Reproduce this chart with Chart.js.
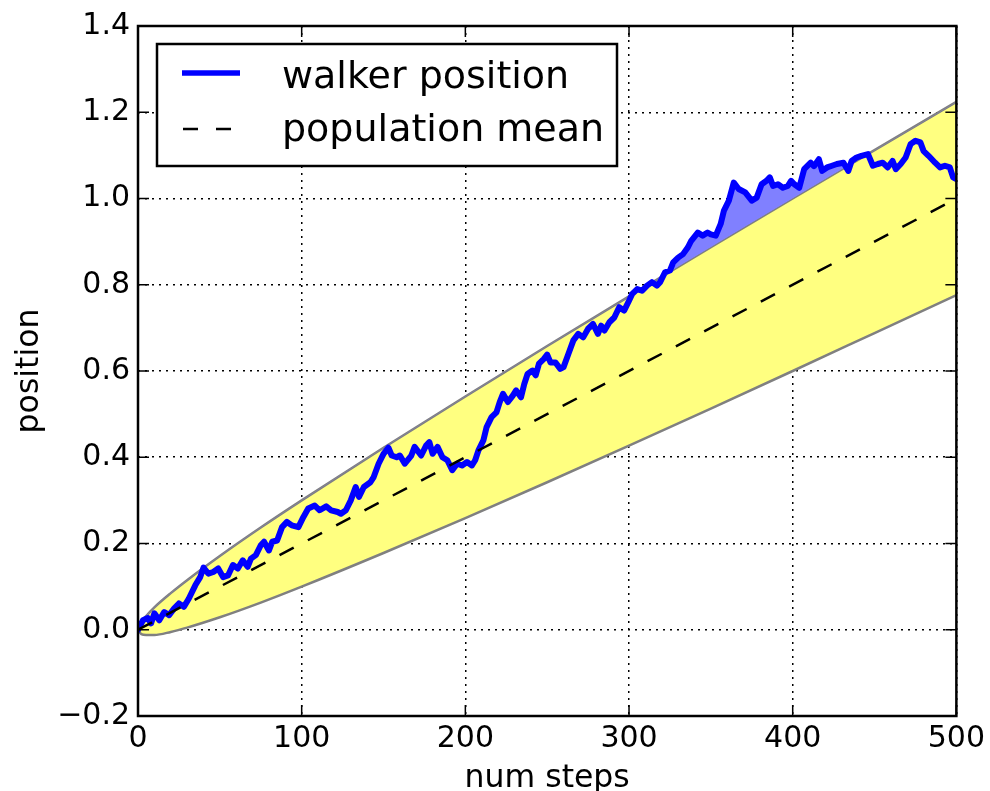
<!DOCTYPE html>
<html>
<head>
  <title>Random walker position</title>
  <script src="https://cdn.jsdelivr.net/npm/chart.js"></script>
  <style>
    html, body { margin: 0; padding: 0; background: #fff; overflow: hidden; }
  </style>
</head>
<body>
  <canvas id="walkChart" width="990" height="791"></canvas>

  <script>
    // walker path (step, position)
    const walkerSteps = [0, 3, 6, 8, 10, 13, 16, 19, 22, 25, 28, 31, 35, 38, 40, 43, 46, 49, 52, 55,
      58, 61, 64, 67, 69, 72, 75, 77, 80, 82, 85, 88, 91, 94, 98, 101, 104, 108, 111, 115,
      118, 122, 124, 127, 130, 133, 135, 138, 142, 144, 147, 150, 153, 155, 158, 160, 163, 167, 169, 173,
      176, 178, 180, 183, 186, 189, 192, 195, 198, 201, 204, 206, 208, 211, 213, 216, 219, 221, 223, 226,
      229, 231, 234, 236, 238, 241, 243, 245, 248, 250, 252, 255, 258, 260, 263, 266, 269, 272, 275, 278,
      281, 283, 285, 288, 291, 294, 297, 300, 302, 305, 308, 311, 314, 317, 319, 322, 325, 327, 330, 333,
      336, 338, 342, 345, 348, 350, 353, 356, 358, 361, 364, 367, 371, 375, 378, 381, 384, 386, 388, 391,
      394, 397, 399, 401, 404, 407, 411, 413, 416, 418, 421, 424, 427, 431, 434, 436, 439, 442, 446, 449,
      452, 455, 458, 461, 463, 466, 469, 472, 475, 478, 480, 483, 487, 490, 493, 496, 498, 500];
    const walkerPos = [0.000, 0.022, 0.027, 0.015, 0.038, 0.022, 0.041, 0.034, 0.049, 0.061, 0.053, 0.072, 0.103, 0.122, 0.144, 0.130, 0.134, 0.142, 0.122, 0.126,
      0.150, 0.142, 0.161, 0.146, 0.165, 0.173, 0.196, 0.204, 0.184, 0.204, 0.207, 0.238, 0.250, 0.242, 0.238, 0.261, 0.281, 0.288, 0.277, 0.286,
      0.277, 0.273, 0.269, 0.277, 0.300, 0.331, 0.308, 0.331, 0.342, 0.354, 0.385, 0.408, 0.422, 0.404, 0.400, 0.404, 0.385, 0.404, 0.424, 0.404,
      0.427, 0.435, 0.408, 0.424, 0.400, 0.393, 0.370, 0.385, 0.381, 0.389, 0.381, 0.393, 0.416, 0.439, 0.470, 0.493, 0.504, 0.528, 0.547, 0.528,
      0.543, 0.555, 0.539, 0.570, 0.593, 0.601, 0.590, 0.617, 0.628, 0.638, 0.620, 0.620, 0.605, 0.609, 0.640, 0.671, 0.686, 0.678, 0.698, 0.709,
      0.686, 0.705, 0.694, 0.713, 0.724, 0.748, 0.740, 0.763, 0.779, 0.790, 0.786, 0.798, 0.806, 0.798, 0.806, 0.829, 0.833, 0.852, 0.863, 0.871,
      0.887, 0.902, 0.921, 0.914, 0.921, 0.917, 0.914, 0.941, 0.972, 0.995, 1.037, 1.022, 1.014, 0.995, 1.002, 1.033, 1.041, 1.049, 1.029, 1.033,
      1.025, 1.029, 1.041, 1.033, 1.025, 1.068, 1.083, 1.075, 1.091, 1.064, 1.072, 1.076, 1.080, 1.083, 1.064, 1.087, 1.095, 1.099, 1.103, 1.076,
      1.080, 1.083, 1.072, 1.087, 1.068, 1.080, 1.095, 1.126, 1.134, 1.130, 1.110, 1.099, 1.083, 1.072, 1.076, 1.072, 1.049, 1.045];

    // yellow band edges
    const bandSteps = [0, 2, 5, 10, 20, 30, 50, 75, 100, 150, 200, 250, 300, 350, 400, 450, 500];
    const bandUpper = [0.000, 0.018, 0.032, 0.052, 0.085, 0.115, 0.171, 0.237, 0.300, 0.422, 0.541, 0.658, 0.773, 0.887, 1.000, 1.112, 1.224];
    const bandLower = [0.000, -0.010, -0.012, -0.012, -0.005, 0.005, 0.029, 0.063, 0.100, 0.178, 0.259, 0.342, 0.427, 0.513, 0.600, 0.688, 0.776];

    // population mean
    const meanSteps = [0, 500];
    const meanPos = [0, 1];

    const xTicks = [0, 100, 200, 300, 400, 500];
    const yTicks = [-0.2, 0, 0.2, 0.4, 0.6, 0.8, 1.0, 1.2, 1.4];
    const legendLabels = ['walker position', 'population mean'];
    const xTitle = 'num steps';
    const yTitle = 'position';

    const FONT = '"DejaVu Sans", sans-serif';
    const pts = (xs, ys) => xs.map((x, i) => ({ x: x, y: ys[i] }));

    // frame, inward ticks, axis titles and the boxed legend, matplotlib style
    const mplFrame = {
      id: 'mplFrame',
      afterDraw(chart) {
        const { ctx, chartArea: a, scales: { x, y } } = chart;
        ctx.save();
        ctx.strokeStyle = '#000';
        ctx.lineWidth = 1.5;
        ctx.beginPath();
        for (const v of xTicks) {
          const px = x.getPixelForValue(v);
          ctx.moveTo(px, a.bottom); ctx.lineTo(px, a.bottom - 11);
          ctx.moveTo(px, a.top); ctx.lineTo(px, a.top + 11);
        }
        for (const v of yTicks) {
          const py = y.getPixelForValue(v);
          ctx.moveTo(a.left, py); ctx.lineTo(a.left + 11, py);
          ctx.moveTo(a.right, py); ctx.lineTo(a.right - 11, py);
        }
        ctx.stroke();
        ctx.lineWidth = 2.5;
        ctx.strokeRect(a.left, a.top, a.right - a.left, a.bottom - a.top);

        // axis titles
        ctx.fillStyle = '#000';
        ctx.font = '31.5px ' + FONT;
        ctx.textAlign = 'center';
        ctx.textBaseline = 'alphabetic';
        ctx.fillText(xTitle, (a.left + a.right) / 2, 787);
        ctx.save();
        ctx.translate(38, (a.top + a.bottom) / 2);
        ctx.rotate(-Math.PI / 2);
        ctx.fillText(yTitle, 0, 0);
        ctx.restore();

        // legend box
        const lx = 157, ly = 44, lw = 460, lh = 122;
        ctx.fillStyle = '#fff';
        ctx.fillRect(lx, ly, lw, lh);
        ctx.lineWidth = 2.5;
        ctx.strokeRect(lx, ly, lw, lh);

        ctx.strokeStyle = '#0000ff';
        ctx.lineWidth = 5.5;
        ctx.beginPath();
        ctx.moveTo(182, 73); ctx.lineTo(240, 73);
        ctx.stroke();

        ctx.strokeStyle = '#000';
        ctx.lineWidth = 2.5;
        ctx.setLineDash([15, 18]);
        ctx.beginPath();
        ctx.moveTo(183, 129); ctx.lineTo(232, 129);
        ctx.stroke();
        ctx.setLineDash([]);

        ctx.fillStyle = '#000';
        ctx.font = '38px ' + FONT;
        ctx.textAlign = 'left';
        ctx.fillText(legendLabels[0], 282, 88);
        ctx.fillText(legendLabels[1], 282, 141);
        ctx.restore();
      }
    };

    const tickFont = { family: FONT, size: 30 };

    new Chart(document.getElementById('walkChart').getContext('2d'), {
      type: 'line',
      data: {
        datasets: [
          {
            label: legendLabels[1],
            data: pts(meanSteps, meanPos),
            borderColor: '#000',
            borderWidth: 2.5,
            borderDash: [16, 16],
            pointRadius: 0,
            fill: false
          },
          {
            label: legendLabels[0],
            data: pts(walkerSteps, walkerPos),
            borderColor: '#0000ff',
            borderWidth: 6,
            borderJoinStyle: 'round',
            borderCapStyle: 'round',
            pointRadius: 0,
            tension: 0,
            fill: { target: 2, above: 'rgb(128,128,255)', below: 'rgba(0,0,0,0)' }
          },
          {
            label: 'upper',
            data: pts(bandSteps, bandUpper),
            borderColor: '#808080',
            borderWidth: 2.5,
            pointRadius: 0,
            cubicInterpolationMode: 'monotone',
            fill: false
          },
          {
            label: 'lower',
            data: pts(bandSteps, bandLower),
            borderColor: '#808080',
            backgroundColor: 'rgb(255,255,128)',
            borderWidth: 2.5,
            pointRadius: 0,
            cubicInterpolationMode: 'monotone',
            fill: '-1'
          }
        ]
      },
      options: {
        responsive: false,
        animation: false,
        layout: { padding: { top: 25, right: 33, left: 0, bottom: 0 } },
        plugins: { legend: { display: false }, tooltip: { enabled: false } },
        scales: {
          x: {
            type: 'linear',
            min: 0,
            max: 500,
            z: 1,
            afterBuildTicks: s => { s.ticks = xTicks.map(v => ({ value: v })); },
            afterFit: s => { s.height = 75; },
            grid: { color: '#000', lineWidth: 1.5, drawTicks: false },
            border: { display: false, dash: [2, 5] },
            ticks: { color: '#000', font: tickFont, padding: 5, maxRotation: 0, autoSkip: false }
          },
          y: {
            type: 'linear',
            min: -0.2,
            max: 1.4,
            z: 1,
            afterBuildTicks: s => { s.ticks = yTicks.map(v => ({ value: v })); },
            afterFit: s => { s.width = 138; },
            grid: { color: '#000', lineWidth: 1.5, drawTicks: false },
            border: { display: false, dash: [2, 5] },
            ticks: {
              color: '#000', font: tickFont, padding: 8, autoSkip: false,
              callback: v => (v < 0 ? '\u2212' + Math.abs(v).toFixed(1) : v.toFixed(1))
            }
          }
        }
      },
      plugins: [mplFrame]
    });
  </script>
</body>
</html>
